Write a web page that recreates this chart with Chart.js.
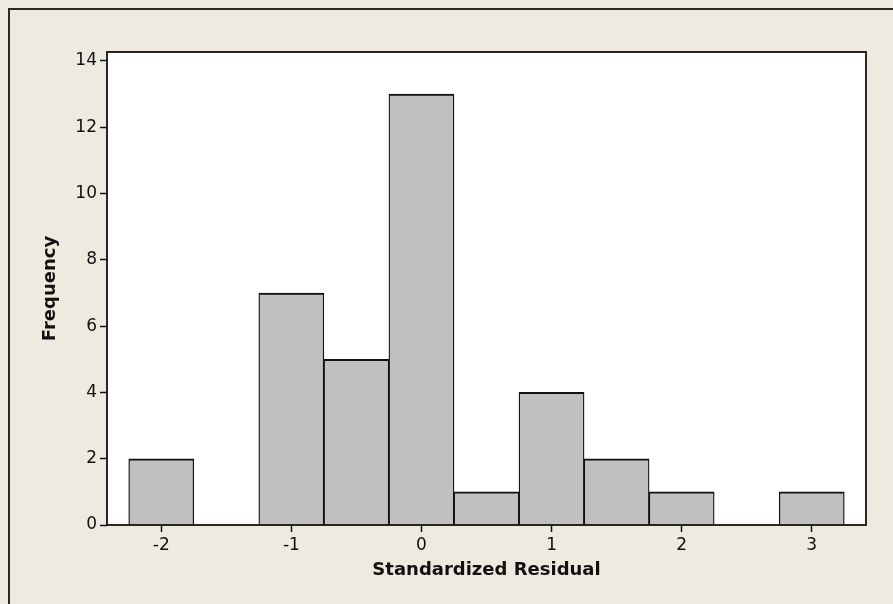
<!DOCTYPE html>
<html>
<head>
<meta charset="utf-8">
<script src="https://cdn.jsdelivr.net/npm/chart.js@4.4.1/dist/chart.umd.min.js"></script>
<style>
  html, body { margin: 0; padding: 0; background: #EEEAE0; }
  #wrap { position: relative; width: 893px; height: 604px; }
</style>
</head>
<body>
<div id="wrap"><canvas id="c" width="893" height="604"></canvas></div>
<script>
// Histogram data: bin midpoints (width 0.5) and frequencies
const binCenters = [-2, -1.5, -1, -0.5, 0, 0.5, 1, 1.5, 2, 2.5, 3];
const frequencies = [2, 0, 7, 5, 13, 1, 4, 2, 1, 0, 1];
const xTickValues = [-2, -1, 0, 1, 2, 3];
const yTickValues = [0, 2, 4, 6, 8, 10, 12, 14];
const xTitle = 'Standardized Residual';
const yTitle = 'Frequency';

const points = binCenters.map((x, i) => ({ x: x, y: frequencies[i] }));

const framePlugin = {
  id: 'frame',
  beforeDraw(chart) {
    const ctx = chart.ctx;
    const a = chart.chartArea;
    ctx.save();
    ctx.fillStyle = '#EEEAE0';
    ctx.fillRect(0, 0, chart.width, chart.height);
    ctx.strokeStyle = '#2a2a2a';
    ctx.lineWidth = 2;
    ctx.beginPath();
    ctx.moveTo(9, chart.height);
    ctx.lineTo(9, 9);
    ctx.lineTo(chart.width, 9);
    ctx.stroke();
    ctx.fillStyle = '#ffffff';
    ctx.fillRect(a.left, a.top, a.right - a.left, a.bottom - a.top);
    ctx.restore();
  },
  afterDatasetsDraw(chart) {
    const ctx = chart.ctx;
    const a = chart.chartArea;
    ctx.save();
    ctx.strokeStyle = '#111111';
    ctx.lineWidth = 1.8;
    ctx.strokeRect(a.left, a.top, a.right - a.left, a.bottom - a.top);
    ctx.restore();
  }
};

new Chart(document.getElementById('c'), {
  type: 'bar',
  data: {
    datasets: [{
      data: points,
      backgroundColor: '#C0C0C0',
      borderColor: '#111111',
      borderWidth: { top: 2, left: 1.3, right: 1.3, bottom: 0 },
      borderSkipped: false,
      barPercentage: 1.0,
      categoryPercentage: 1.0
    }]
  },
  options: {
    responsive: false,
    animation: false,
    events: [],
    layout: { padding: { top: 52, right: 27, left: 0, bottom: 0 } },
    plugins: { legend: { display: false }, tooltip: { enabled: false } },
    scales: {
      x: {
        type: 'linear',
        min: -2.417,
        max: 3.417,
        offset: false,
        afterBuildTicks(scale) { scale.ticks = xTickValues.map(v => ({ value: v })); },
        afterFit(scale) { scale.height = 79; },
        grid: { offset: false, drawOnChartArea: false, drawTicks: true, tickLength: 7, tickWidth: 1.5, tickColor: '#111', color: '#111' },
        border: { display: false },
        ticks: { color: '#111', font: { family: 'DejaVu Sans', size: 17 }, padding: 3, maxRotation: 0, autoSkip: false },
        title: { display: true, text: xTitle, color: '#111', font: { family: 'DejaVu Sans', size: 18, weight: 'bold' }, padding: { top: 23, bottom: 23 } }
      },
      y: {
        min: 0,
        max: 14.27,
        afterBuildTicks(scale) { scale.ticks = yTickValues.map(v => ({ value: v })); },
        afterFit(scale) { scale.width = 107; },
        grid: { drawOnChartArea: false, drawTicks: true, tickLength: 7, tickWidth: 1.5, tickColor: '#111', color: '#111' },
        border: { display: false },
        ticks: { color: '#111', font: { family: 'DejaVu Sans', size: 17 }, padding: 3, autoSkip: false },
        title: { display: true, text: yTitle, color: '#111', font: { family: 'DejaVu Sans', size: 18, weight: 'bold' }, padding: { top: 40, bottom: 40 } }
      }
    }
  },
  plugins: [framePlugin]
});
</script>
</body>
</html>
